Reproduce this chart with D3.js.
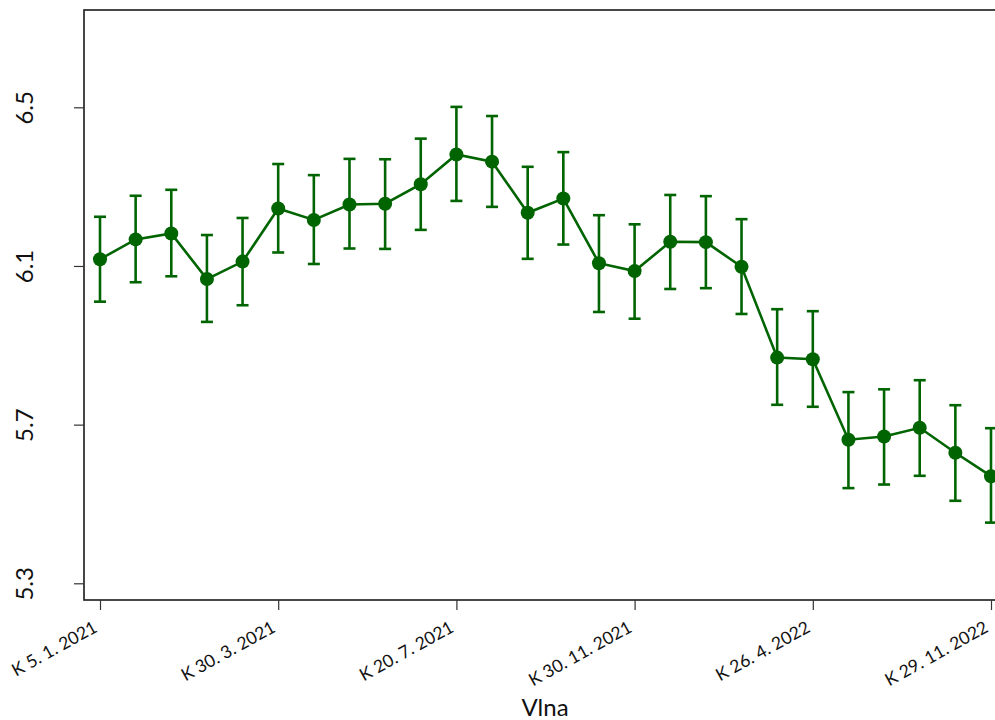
<!DOCTYPE html>
<html>
<head>
<meta charset="utf-8">
<script src="https://cdn.jsdelivr.net/npm/d3@7"></script>
<style>
  body { margin: 0; background: #fff; }
  svg { display: block; }
  svg text { font-family: Lato, "Open Sans", sans-serif; }
</style>
</head>
<body>
<div class="visualGraph"></div>
<script>
// waves (vlna) 1..26
const waves = d3.range(1, 27);
const means = [6.117, 6.167, 6.182, 6.067, 6.111, 6.245, 6.216, 6.255, 6.257, 6.306,
               6.381, 6.363, 6.234, 6.270, 6.107, 6.087, 6.161, 6.160, 6.098, 5.869,
               5.865, 5.662, 5.670, 5.692, 5.629, 5.570];
const upper = [6.224, 6.277, 6.292, 6.178, 6.221, 6.357, 6.329, 6.370, 6.369, 6.421,
               6.501, 6.478, 6.350, 6.387, 6.228, 6.205, 6.279, 6.276, 6.218, 5.991,
               5.986, 5.782, 5.789, 5.812, 5.749, 5.691];
const lower = [6.010, 6.059, 6.074, 5.959, 6.001, 6.134, 6.105, 6.144, 6.143, 6.191,
               6.264, 6.249, 6.118, 6.154, 5.984, 5.967, 6.042, 6.044, 5.979, 5.750,
               5.745, 5.540, 5.549, 5.571, 5.508, 5.453];
const xTickWaves = [1, 6, 11, 16, 21, 26];
const xTickLabels = ["K 5. 1. 2021", "K 30. 3. 2021", "K 20. 7. 2021",
                     "K 30. 11. 2021", "K 26. 4. 2022", "K 29. 11. 2022"];
const yTicks = [5.3, 5.7, 6.1, 6.5];

const width = 995, height = 720;
const box = { left: 84, top: 10, right: 999, bottom: 600 };
const green = "#006400";

const svg = d3.select(".visualGraph")
  .append("svg")
  .attr("width", width)
  .attr("height", height)
  .attr("viewBox", [0, 0, width, height]);

const x = d3.scaleLinear().domain([1, 26]).range([100, 991]);
const y = d3.scaleLinear().domain([5.3, 6.5]).range([583.3, 107.3]);

const data = waves.map((w, i) => ({ w, m: means[i], lo: lower[i], hi: upper[i] }));

// plot frame
svg.append("rect")
  .attr("x", box.left).attr("y", box.top)
  .attr("width", box.right - box.left).attr("height", box.bottom - box.top)
  .attr("fill", "none").attr("stroke", "#1a1a1a").attr("stroke-width", 1.6);

// y axis
const yAxis = svg.append("g")
  .attr("transform", `translate(${box.left},0)`)
  .call(d3.axisLeft(y).tickValues(yTicks).tickSize(10).tickFormat(d3.format(".1f")));
yAxis.attr("font-family", null);
yAxis.select(".domain").remove();
yAxis.selectAll(".tick line").attr("stroke", "#333").attr("stroke-width", 1.2);
yAxis.selectAll(".tick text")
  .attr("font-size", 24)
  .attr("fill", "#111")
  .attr("text-anchor", "middle")
  .attr("transform", "rotate(-90)")
  .attr("x", 0)
  .attr("dy", 0)
  .attr("y", -51);

// x axis
const xAxis = svg.append("g")
  .attr("transform", `translate(0,${box.bottom})`)
  .call(d3.axisBottom(x).tickValues(xTickWaves).tickSize(10)
    .tickFormat((d, i) => xTickLabels[i]));
xAxis.attr("font-family", null);
xAxis.select(".domain").remove();
xAxis.selectAll(".tick line").attr("stroke", "#333").attr("stroke-width", 1.2);
xAxis.selectAll(".tick text")
  .attr("font-size", 17.5)
  .attr("fill", "#111")
  .attr("text-anchor", "end")
  .attr("x", 0).attr("y", 0).attr("dy", 0)
  .attr("transform", "translate(-2,31) rotate(-29)");

svg.append("text")
  .attr("x", 545).attr("y", 716)
  .attr("text-anchor", "middle")
  .attr("font-size", 24)
  .attr("fill", "#111")
  .text("Vlna");

// error bars
const eb = svg.append("g").attr("stroke", green).attr("stroke-width", 2.6).attr("fill", "none");
eb.selectAll("line.v").data(data).join("line").attr("class", "v")
  .attr("x1", d => x(d.w)).attr("x2", d => x(d.w))
  .attr("y1", d => y(d.lo)).attr("y2", d => y(d.hi));
eb.selectAll("line.t").data(data).join("line").attr("class", "t")
  .attr("x1", d => x(d.w) - 6).attr("x2", d => x(d.w) + 6)
  .attr("y1", d => y(d.hi)).attr("y2", d => y(d.hi));
eb.selectAll("line.b").data(data).join("line").attr("class", "b")
  .attr("x1", d => x(d.w) - 6).attr("x2", d => x(d.w) + 6)
  .attr("y1", d => y(d.lo)).attr("y2", d => y(d.lo));

// mean line
svg.append("path")
  .datum(data)
  .attr("fill", "none")
  .attr("stroke", green)
  .attr("stroke-width", 2.6)
  .attr("d", d3.line().x(d => x(d.w)).y(d => y(d.m)));

svg.append("g").selectAll("circle").data(data).join("circle")
  .attr("cx", d => x(d.w)).attr("cy", d => y(d.m))
  .attr("r", 7)
  .attr("fill", green);
</script>
</body>
</html>
